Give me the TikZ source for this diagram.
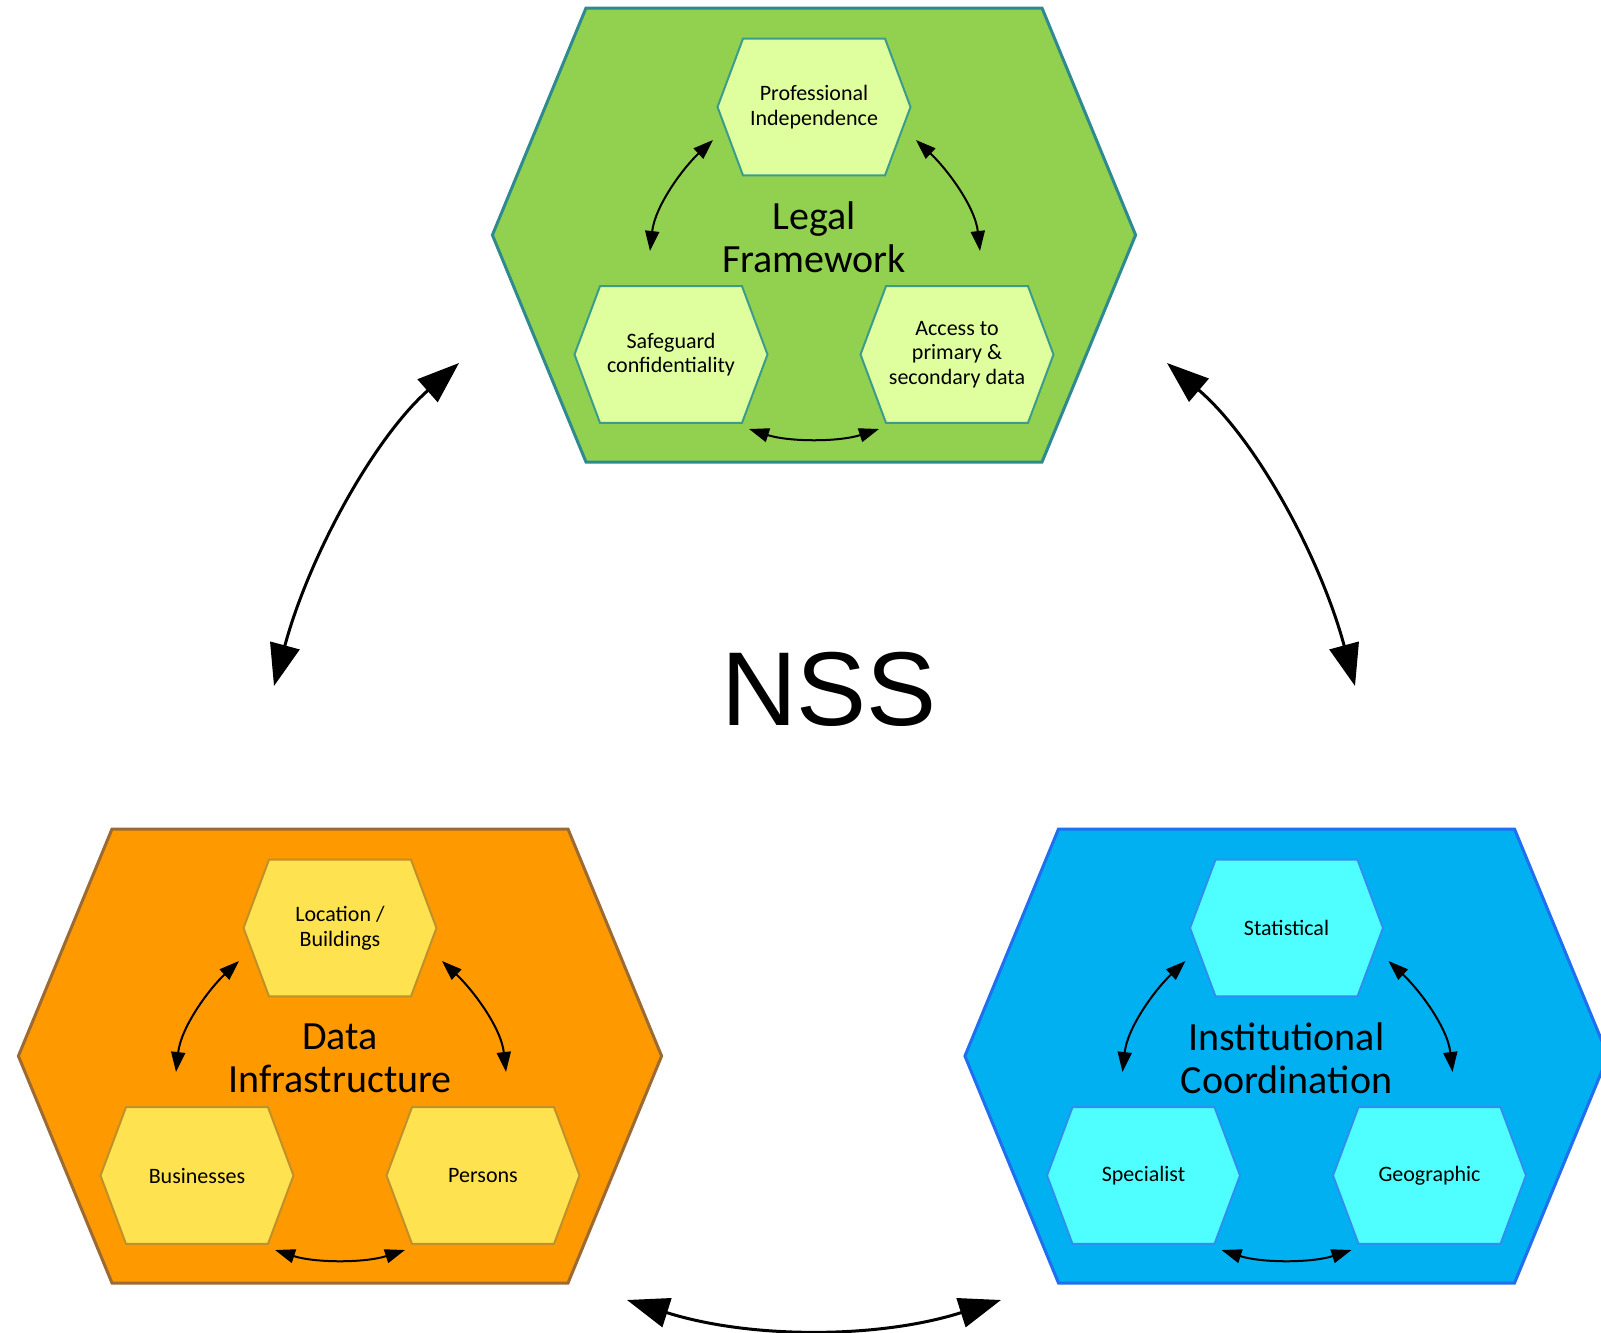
\documentclass[tikz,border=0pt]{standalone}
\usepackage{fontspec}
\setmainfont{Carlito}
\newfontfamily\nssfont{Liberation Sans}
\usetikzlibrary{calc,arrows.meta}
\definecolor{gfill}{HTML}{92D050}
\definecolor{gline}{HTML}{2F8A8F}
\definecolor{gsfill}{HTML}{DFFF9F}
\definecolor{gsline}{HTML}{3C9C8C}
\definecolor{ofill}{HTML}{FF9900}
\definecolor{oline}{HTML}{9C6A33}
\definecolor{osfill}{HTML}{FFE24F}
\definecolor{osline}{HTML}{C0902A}
\definecolor{bfill}{HTML}{00B0F0}
\definecolor{bline}{HTML}{1F6FF0}
\definecolor{bsfill}{HTML}{4FFFFF}
\definecolor{bsline}{HTML}{2F8FF0}

\newcommand{\hexat}[5]{%
  \path[#5] ($(#1)+(-#2,0)$) -- ($(#1)+(-#3,-#4)$) -- ($(#1)+(#3,-#4)$) --
    ($(#1)+(#2,0)$) -- ($(#1)+(#3,#4)$) -- ($(#1)+(-#3,#4)$) -- cycle;}

\newcommand{\hexgroup}[9]{%
  \hexat{#1}{321.6}{228}{227}{draw=#3,fill=#2,line width=3pt,line join=miter}
  \coordinate (#1-t) at ($(#1)+(0,-128)$);
  \coordinate (#1-l) at ($(#1)+(-143,119.5)$);
  \coordinate (#1-r) at ($(#1)+(143,119.5)$);
  \hexat{#1-t}{96.5}{71}{68.4}{draw=#5,fill=#4,line width=2pt}
  \hexat{#1-l}{96.5}{71}{68.4}{draw=#5,fill=#4,line width=2pt}
  \hexat{#1-r}{96.5}{71}{68.4}{draw=#5,fill=#4,line width=2pt}
  \node[smalltxt] (#1-tt) at (#1-t) {#7};
  \node[smalltxt] (#1-lt) at (#1-l) {#8};
  \node[smalltxt] (#1-rt) at (#1-r) {#9};
  \node[titletxt] (#1-title) at ($(#1)+(0,2)$) {#6};
  \coordinate (#1-a1) at ($(#1)+(-164,16)$);
  \coordinate (#1-a2) at ($(#1)+(-101,-95)$);
  \coordinate (#1-a3) at ($(#1)+(102,-95)$);
  \coordinate (#1-a4) at ($(#1)+(166,16)$);
  \coordinate (#1-a5) at ($(#1)+(-65,194)$);
  \coordinate (#1-a6) at ($(#1)+(65,194)$);
  \draw[sarr] (#1-a1) .. controls ($(#1-a1)+(5,-45)$) and ($(#1-a2)+(-30,28)$) .. (#1-a2);
  \draw[sarr] (#1-a3) .. controls ($(#1-a3)+(30,28)$) and ($(#1-a4)+(-5,-45)$) .. (#1-a4);
  \draw[sarr] (#1-a5) .. controls ($(#1-a5)+(40,13)$) and ($(#1-a6)+(-40,13)$) .. (#1-a6);
}

\begin{document}
\begin{tikzpicture}[x=1pt,y=-1pt,
  smalltxt/.style={align=center,font=\fontsize{22}{24.5}\selectfont,inner sep=0pt},
  titletxt/.style={align=center,font=\fontsize{40}{43}\selectfont,inner sep=0pt},
  sarr/.style={arrows={Triangle[length=20pt,width=14pt]-Triangle[length=20pt,width=14pt]},line width=2pt},
  barr/.style={arrows={Triangle[length=42pt,width=30pt]-Triangle[length=42pt,width=30pt]},line width=3pt}]
\fill[white] (0,0) rectangle (1601,1333);
\useasboundingbox (0,0) rectangle (1601,1333);

\coordinate (g) at (814,235);
\coordinate (o) at (340,1056);
\coordinate (b) at (1286.5,1056);

\hexgroup{g}{gfill}{gline}{gsfill}{gsline}{Legal\\Framework}{Professional\\Independence}{Safeguard\\confidentiality}{Access to\\primary \&\\secondary data}
\hexgroup{o}{ofill}{oline}{osfill}{osline}{Data\\Infrastructure}{Location /\\Buildings}{Businesses}{Persons}
\hexgroup{b}{bfill}{bline}{bsfill}{bsline}{Institutional\\Coordination}{Statistical}{Specialist}{Geographic}

\node[anchor=base,inner sep=0pt,font=\nssfont\fontsize{105}{110}\selectfont] (nss) at (829,725) {NSS};

\coordinate (L1) at (274,686);
\coordinate (L2) at (459,363);
\coordinate (R1) at (1167,363);
\coordinate (R2) at (1355,686);
\coordinate (B1) at (627,1300);
\coordinate (B2) at (1001,1300);
\draw[barr] (L1) .. controls (309,556) and (374,438) .. (L2);
\draw[barr] (R1) .. controls (1255,438) and (1320,556) .. (R2);
\draw[barr] (B1) .. controls (750,1339) and (878,1339) .. (B2);
\end{tikzpicture}
\end{document}
